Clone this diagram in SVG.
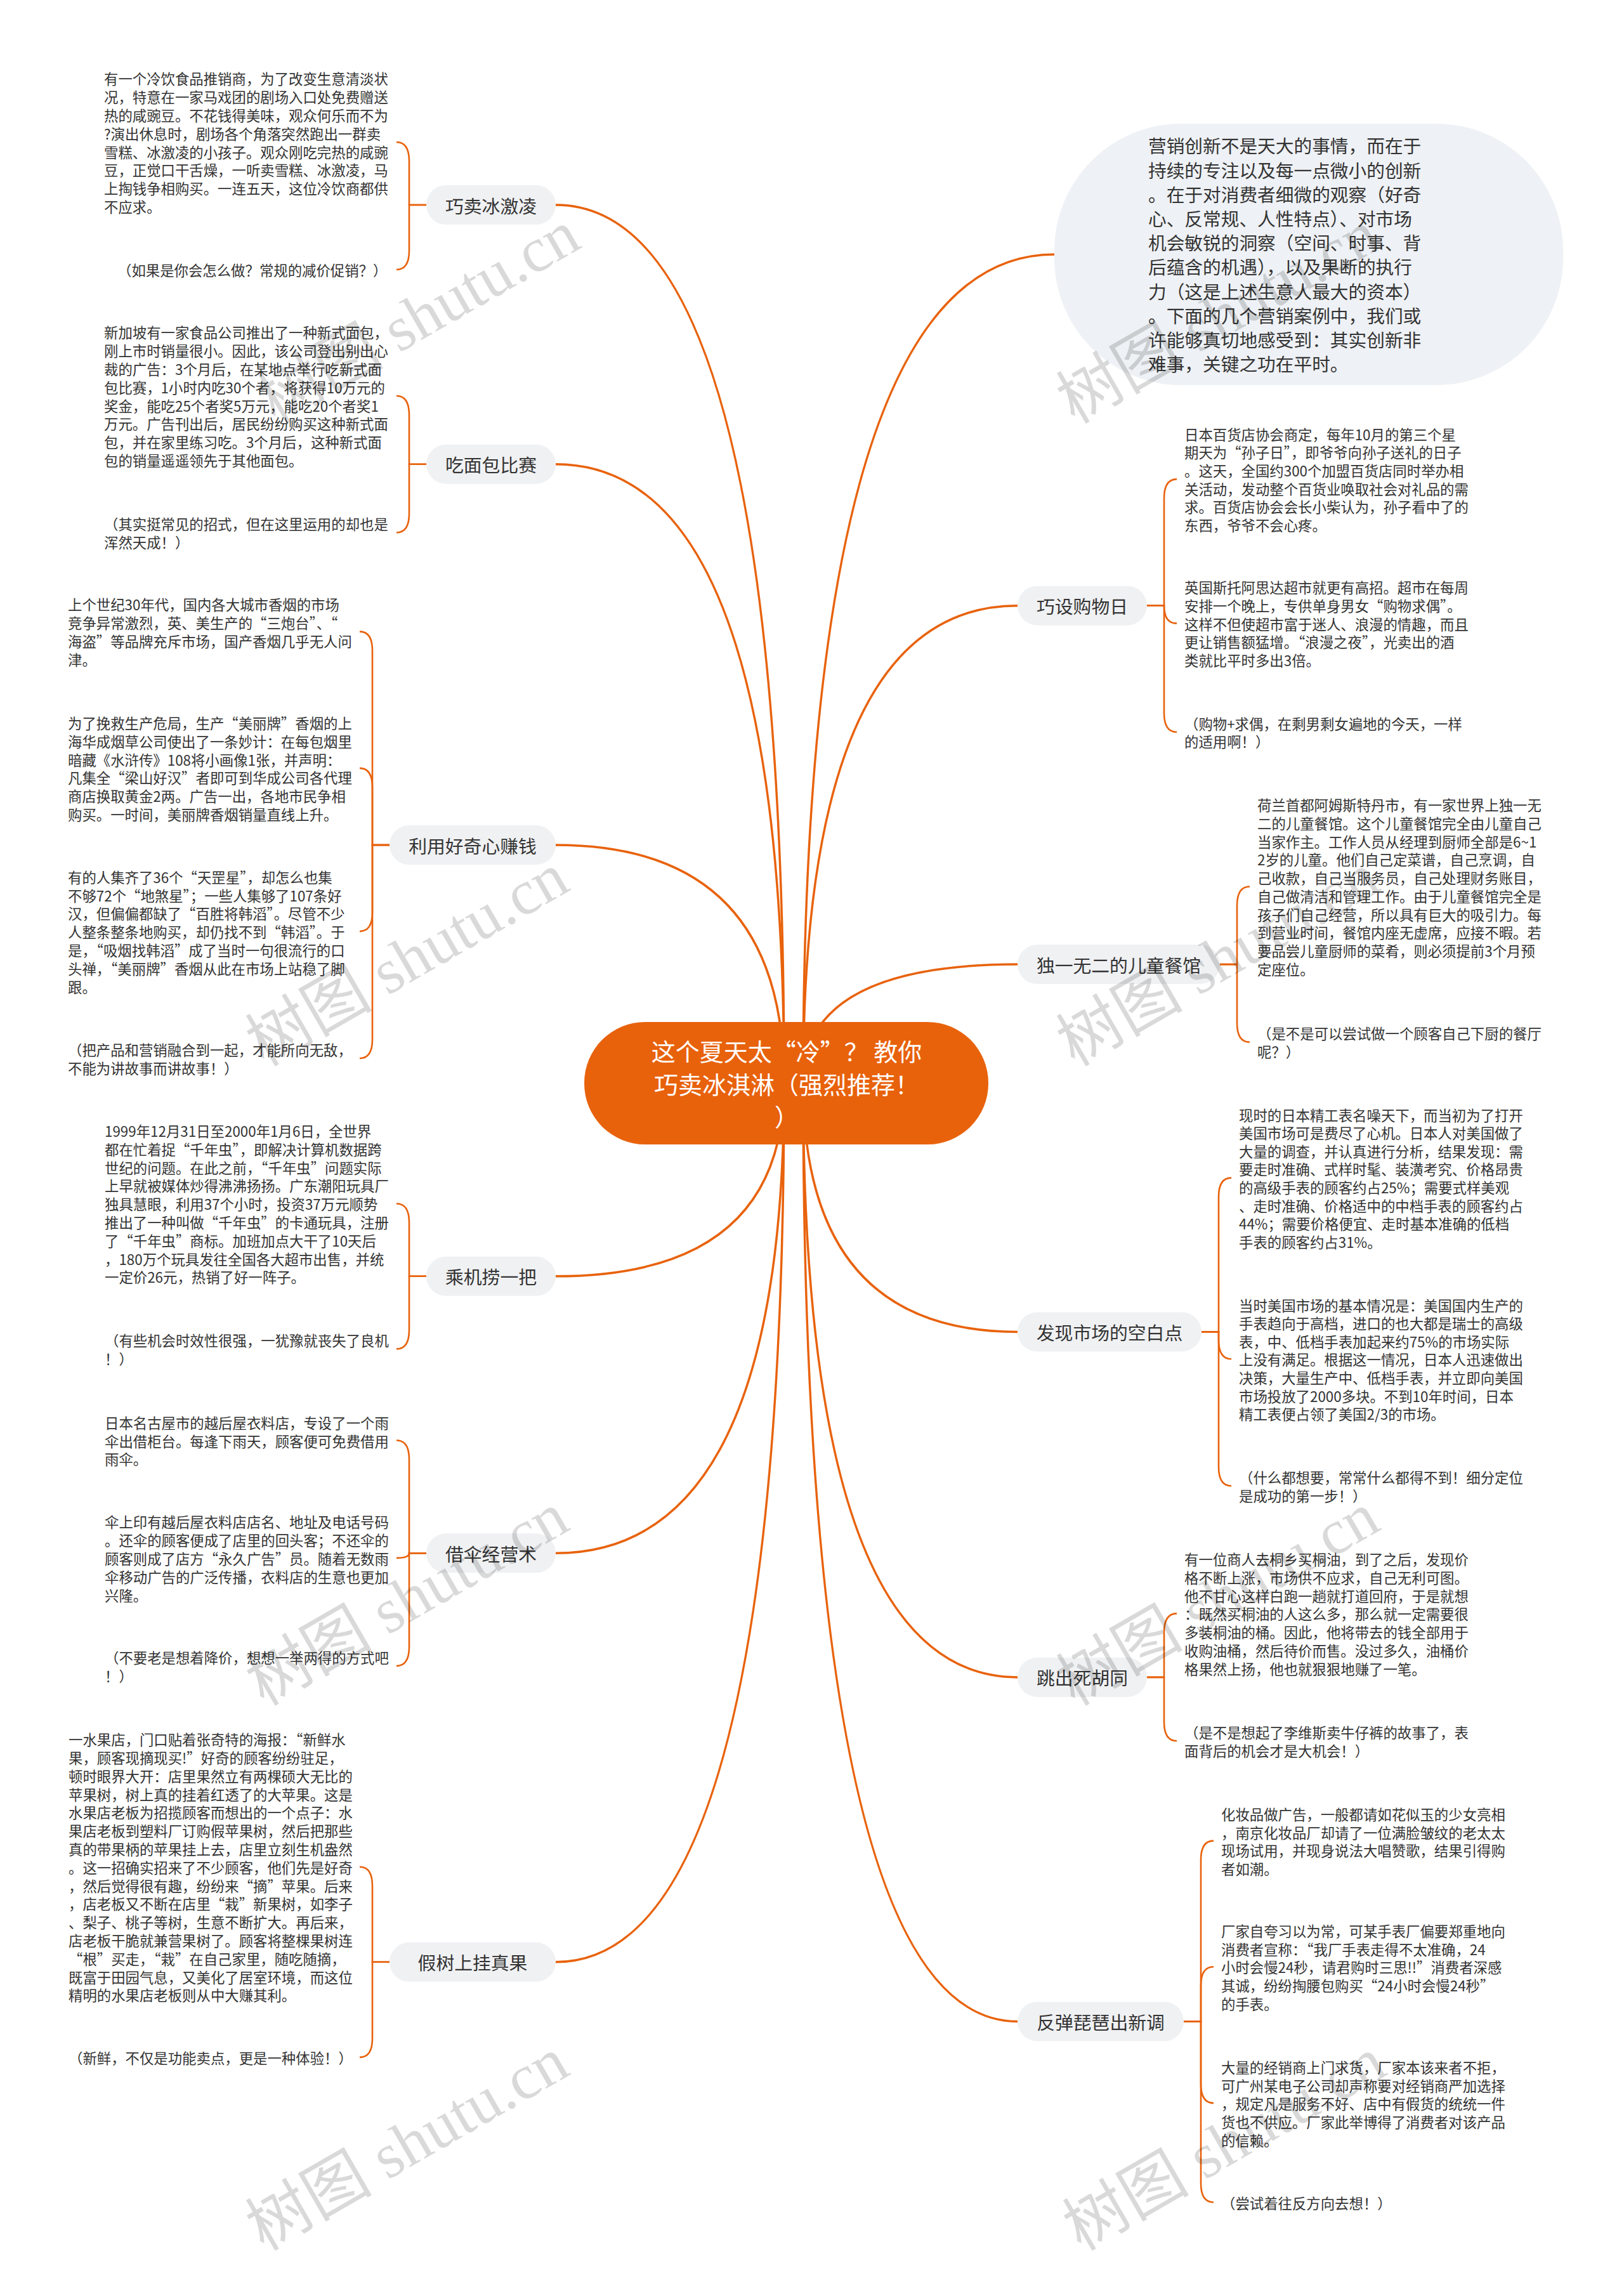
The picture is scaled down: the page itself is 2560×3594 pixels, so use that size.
<svg xmlns="http://www.w3.org/2000/svg" width="2560" height="3594" viewBox="0 0 2560 3594">
<style>
.t{font-family:"Noto Sans CJK SC","Noto Sans",sans-serif;font-size:22.4px;fill:#333333;dominant-baseline:central}
.lbl{font-family:"Noto Sans CJK SC","Noto Sans",sans-serif;font-size:28.8px;fill:#333333;text-anchor:middle;dominant-baseline:central}
.bub{font-family:"Noto Sans CJK SC","Noto Sans",sans-serif;font-size:28.7px;fill:#333333;dominant-baseline:central}
.ctr{font-family:"Noto Sans CJK SC","Noto Sans",sans-serif;font-size:38px;fill:#ffffff;text-anchor:middle;dominant-baseline:central}
.pill{fill:#F0F1F3}
.main{fill:none;stroke:#E8620C;stroke-width:3.5}
.br{fill:none;stroke:#E8620C;stroke-width:2.6}
.wm{font-family:"Liberation Serif","Noto Sans CJK SC",serif;font-size:100px;fill:#000000;fill-opacity:0.15;text-anchor:middle;dominant-baseline:central}
</style>
<rect width="2560" height="3594" fill="#ffffff"/>
<g id="connectors">
<path class="main" d="M1236 1707 Q1236 323 876 323"/>
<path class="main" d="M1236 1707 Q1236 731.7 876 731.7"/>
<path class="main" d="M1236 1707 Q1236 1332 876 1332"/>
<path class="main" d="M1236 1707 Q1236 2011.8 876 2011.8"/>
<path class="main" d="M1236 1707 Q1236 2448.3 876 2448.3"/>
<path class="main" d="M1236 1707 Q1236 3092.8 876 3092.8"/>
<path class="main" d="M1266 1707 Q1266 401 1662 401"/>
<path class="main" d="M1266 1707 Q1266 954.7 1604 954.7"/>
<path class="main" d="M1266 1707 Q1266 1520.1 1604 1520.1"/>
<path class="main" d="M1266 1707 Q1266 2099.4 1604 2099.4"/>
<path class="main" d="M1266 1707 Q1266 2643.9 1604 2643.9"/>
<path class="main" d="M1266 1707 Q1266 3186.5 1604 3186.5"/>
<path class="br" d="M672 323 H645 V254 Q645 224 625 224"/>
<path class="br" d="M672 323 H645 V395 Q645 425 625 425"/>
<path class="br" d="M672 731.7 H645 V654 Q645 624 625 624"/>
<path class="br" d="M672 731.7 H645 V809.5 Q645 839.5 625 839.5"/>
<path class="br" d="M614 1332 H587 V1025.6 Q587 995.6 567 995.6"/>
<path class="br" d="M614 1332 H587 V1240.9 Q587 1210.9 567 1210.9"/>
<path class="br" d="M614 1332 H587 V1438.1 Q587 1468.1 567 1468.1"/>
<path class="br" d="M614 1332 H587 V1638.3 Q587 1668.3 567 1668.3"/>
<path class="br" d="M672 2011.8 H645 V1927.2 Q645 1897.2 625 1897.2"/>
<path class="br" d="M672 2011.8 H645 V2096.4 Q645 2126.4 625 2126.4"/>
<path class="br" d="M672 2448.3 H645 V2300.5 Q645 2270.5 625 2270.5"/>
<path class="br" d="M672 2448.3 H645 Q645 2455.9 625 2455.9"/>
<path class="br" d="M672 2448.3 H645 V2596.1 Q645 2626.1 625 2626.1"/>
<path class="br" d="M614 3092.8 H587 V2972.7 Q587 2942.7 567 2942.7"/>
<path class="br" d="M614 3092.8 H587 V3212.9 Q587 3242.9 567 3242.9"/>
<path class="br" d="M1808 954.7 H1835 V785.4 Q1835 755.4 1855 755.4"/>
<path class="br" d="M1808 954.7 H1835 Q1835 982.6 1855 982.6"/>
<path class="br" d="M1808 954.7 H1835 V1124 Q1835 1154 1855 1154"/>
<path class="br" d="M1923 1520.1 H1950 V1427.5 Q1950 1397.5 1970 1397.5"/>
<path class="br" d="M1923 1520.1 H1950 V1612.7 Q1950 1642.7 1970 1642.7"/>
<path class="br" d="M1894 2099.4 H1921 V1886.6 Q1921 1856.6 1941 1856.6"/>
<path class="br" d="M1894 2099.4 H1921 V2112.3 Q1921 2142.3 1941 2142.3"/>
<path class="br" d="M1894 2099.4 H1921 V2312.2 Q1921 2342.2 1941 2342.2"/>
<path class="br" d="M1808 2643.9 H1835 V2573.4 Q1835 2543.4 1855 2543.4"/>
<path class="br" d="M1808 2643.9 H1835 V2714.3 Q1835 2744.3 1855 2744.3"/>
<path class="br" d="M1866 3186.5 H1893 V2931.6 Q1893 2901.6 1913 2901.6"/>
<path class="br" d="M1866 3186.5 H1893 V3130.3 Q1893 3100.3 1913 3100.3"/>
<path class="br" d="M1866 3186.5 H1893 V3285.1 Q1893 3315.1 1913 3315.1"/>
<path class="br" d="M1866 3186.5 H1893 V3441.5 Q1893 3471.5 1913 3471.5"/>
</g>
<g id="center">
<rect x="921" y="1611" width="637" height="193" rx="96" fill="#E8620C"/>
<text class="ctr"><tspan x="1240" y="1655">这个夏天太“冷”？ 教你</tspan><tspan x="1240" y="1707">巧卖冰淇淋（强烈推荐！</tspan><tspan x="1240" y="1758">）</tspan></text>
</g>
<g id="intro">
<rect x="1662" y="195" width="802" height="412" rx="200" ry="200" fill="#EEF1F5"/>
<text class="bub"><tspan x="1810" y="228.3">营销创新不是天大的事情，而在于</tspan><tspan x="1810" y="266.5">持续的专注以及每一点微小的创新</tspan><tspan x="1810" y="304.7">。在于对消费者细微的观察（好奇</tspan><tspan x="1810" y="342.9">心、反常规、人性特点）、对市场</tspan><tspan x="1810" y="381.1">机会敏锐的洞察（空间、时事、背</tspan><tspan x="1810" y="419.3">后蕴含的机遇），以及果断的执行</tspan><tspan x="1810" y="457.5">力（这是上述生意人最大的资本）</tspan><tspan x="1810" y="495.7">。下面的几个营销案例中，我们或</tspan><tspan x="1810" y="533.9">许能够真切地感受到：其实创新非</tspan><tspan x="1810" y="572.1">难事，关键之功在平时。</tspan></text>
</g>
<g id="b1">
<rect class="pill" x="672" y="292" width="204" height="62" rx="31"/>
<text class="lbl" x="774" y="323">巧卖冰激凌</text>
</g>
<g id="b1-c1"><text class="t"><tspan x="164" y="123.3">有一个冷饮食品推销商，为了改变生意清淡状</tspan><tspan x="164" y="152.1">况，特意在一家马戏团的剧场入口处免费赠送</tspan><tspan x="164" y="180.9">热的咸豌豆。不花钱得美味，观众何乐而不为</tspan><tspan x="164" y="209.7">?演出休息时，剧场各个角落突然跑出一群卖</tspan><tspan x="164" y="238.5">雪糕、冰激凌的小孩子。观众刚吃完热的咸豌</tspan><tspan x="164" y="267.3">豆，正觉口干舌燥，一听卖雪糕、冰激凌，马</tspan><tspan x="164" y="296.1">上掏钱争相购买。一连五天，这位冷饮商都供</tspan><tspan x="164" y="324.9">不应求。</tspan></text></g>
<g id="b1-c2"><text class="t" x="185" y="425">（如果是你会怎么做？常规的减价促销？）</text></g>
<g id="b2">
<rect class="pill" x="672" y="700.7" width="204" height="62" rx="31"/>
<text class="lbl" x="774" y="731.7">吃面包比赛</text>
</g>
<g id="b2-c1"><text class="t"><tspan x="164" y="523.3">新加坡有一家食品公司推出了一种新式面包，</tspan><tspan x="164" y="552.1">刚上市时销量很小。因此，该公司登出别出心</tspan><tspan x="164" y="580.9">裁的广告：3个月后，在某地点举行吃新式面</tspan><tspan x="164" y="609.7">包比赛，1小时内吃30个者，将获得10万元的</tspan><tspan x="164" y="638.5">奖金，能吃25个者奖5万元，能吃20个者奖1</tspan><tspan x="164" y="667.3">万元。广告刊出后，居民纷纷购买这种新式面</tspan><tspan x="164" y="696.1">包，并在家里练习吃。3个月后，这种新式面</tspan><tspan x="164" y="724.9">包的销量遥遥领先于其他面包。</tspan></text></g>
<g id="b2-c2"><text class="t"><tspan x="164" y="825">（其实挺常见的招式，但在这里运用的却也是</tspan><tspan x="164" y="853.8">浑然天成！）</tspan></text></g>
<g id="b3">
<rect class="pill" x="614" y="1301" width="262" height="62" rx="31"/>
<text class="lbl" x="745" y="1332">利用好奇心赚钱</text>
</g>
<g id="b3-c1"><text class="t"><tspan x="107" y="952.4">上个世纪30年代，国内各大城市香烟的市场</tspan><tspan x="107" y="981.2">竞争异常激烈，英、美生产的“三炮台”、“</tspan><tspan x="107" y="1010">海盗”等品牌充斥市场，国产香烟几乎无人问</tspan><tspan x="107" y="1038.8">津。</tspan></text></g>
<g id="b3-c2"><text class="t"><tspan x="107" y="1138.9">为了挽救生产危局，生产“美丽牌”香烟的上</tspan><tspan x="107" y="1167.7">海华成烟草公司使出了一条妙计：在每包烟里</tspan><tspan x="107" y="1196.5">暗藏《水浒传》108将小画像1张，并声明：</tspan><tspan x="107" y="1225.3">凡集全“梁山好汉”者即可到华成公司各代理</tspan><tspan x="107" y="1254.1">商店换取黄金2两。广告一出，各地市民争相</tspan><tspan x="107" y="1282.9">购买。一时间，美丽牌香烟销量直线上升。</tspan></text></g>
<g id="b3-c3"><text class="t"><tspan x="107" y="1381.7">有的人集齐了36个“天罡星”，却怎么也集</tspan><tspan x="107" y="1410.5">不够72个“地煞星”；一些人集够了107条好</tspan><tspan x="107" y="1439.3">汉，但偏偏都缺了“百胜将韩滔”。尽管不少</tspan><tspan x="107" y="1468.1">人整条整条地购买，却仍找不到“韩滔”。于</tspan><tspan x="107" y="1496.9">是，“吸烟找韩滔”成了当时一句很流行的口</tspan><tspan x="107" y="1525.7">头禅，“美丽牌”香烟从此在市场上站稳了脚</tspan><tspan x="107" y="1554.5">跟。</tspan></text></g>
<g id="b3-c4"><text class="t"><tspan x="107" y="1653.9">（把产品和营销融合到一起，才能所向无敌，</tspan><tspan x="107" y="1682.7">不能为讲故事而讲故事！）</tspan></text></g>
<g id="b4">
<rect class="pill" x="672" y="1980.8" width="204" height="62" rx="31"/>
<text class="lbl" x="774" y="2011.8">乘机捞一把</text>
</g>
<g id="b4-c1"><text class="t"><tspan x="165" y="1782">1999年12月31日至2000年1月6日，全世界</tspan><tspan x="165" y="1810.8">都在忙着捉“千年虫”，即解决计算机数据跨</tspan><tspan x="165" y="1839.6">世纪的问题。在此之前，“千年虫”问题实际</tspan><tspan x="165" y="1868.4">上早就被媒体炒得沸沸扬扬。广东潮阳玩具厂</tspan><tspan x="165" y="1897.2">独具慧眼，利用37个小时，投资37万元顺势</tspan><tspan x="165" y="1926">推出了一种叫做“千年虫”的卡通玩具，注册</tspan><tspan x="165" y="1954.8">了“千年虫”商标。加班加点大干了10天后</tspan><tspan x="165" y="1983.6">，180万个玩具发往全国各大超市出售，并统</tspan><tspan x="165" y="2012.4">一定价26元，热销了好一阵子。</tspan></text></g>
<g id="b4-c2"><text class="t"><tspan x="165" y="2112">（有些机会时效性很强，一犹豫就丧失了良机</tspan><tspan x="165" y="2140.8">！）</tspan></text></g>
<g id="b5">
<rect class="pill" x="672" y="2417.3" width="204" height="62" rx="31"/>
<text class="lbl" x="774" y="2448.3">借伞经营术</text>
</g>
<g id="b5-c1"><text class="t"><tspan x="165" y="2241.7">日本名古屋市的越后屋衣料店，专设了一个雨</tspan><tspan x="165" y="2270.5">伞出借柜台。每逢下雨天，顾客便可免费借用</tspan><tspan x="165" y="2299.3">雨伞。</tspan></text></g>
<g id="b5-c2"><text class="t"><tspan x="165" y="2398.3">伞上印有越后屋衣料店店名、地址及电话号码</tspan><tspan x="165" y="2427.1">。还伞的顾客便成了店里的回头客；不还伞的</tspan><tspan x="165" y="2455.9">顾客则成了店方“永久广告”员。随着无数雨</tspan><tspan x="165" y="2484.7">伞移动广告的广泛传播，衣料店的生意也更加</tspan><tspan x="165" y="2513.5">兴隆。</tspan></text></g>
<g id="b5-c3"><text class="t"><tspan x="165" y="2611.7">（不要老是想着降价，想想一举两得的方式吧</tspan><tspan x="165" y="2640.5">！）</tspan></text></g>
<g id="b6">
<rect class="pill" x="614" y="3061.8" width="262" height="62" rx="31"/>
<text class="lbl" x="745" y="3092.8">假树上挂真果</text>
</g>
<g id="b6-c1"><text class="t"><tspan x="108" y="2741.1">一水果店，门口贴着张奇特的海报：“新鲜水</tspan><tspan x="108" y="2769.9">果，顾客现摘现买!”好奇的顾客纷纷驻足，</tspan><tspan x="108" y="2798.7">顿时眼界大开：店里果然立有两棵硕大无比的</tspan><tspan x="108" y="2827.5">苹果树，树上真的挂着红透了的大苹果。这是</tspan><tspan x="108" y="2856.3">水果店老板为招揽顾客而想出的一个点子：水</tspan><tspan x="108" y="2885.1">果店老板到塑料厂订购假苹果树，然后把那些</tspan><tspan x="108" y="2913.9">真的带果柄的苹果挂上去，店里立刻生机盎然</tspan><tspan x="108" y="2942.7">。这一招确实招来了不少顾客，他们先是好奇</tspan><tspan x="108" y="2971.5">，然后觉得很有趣，纷纷来“摘”苹果。后来</tspan><tspan x="108" y="3000.3">，店老板又不断在店里“栽”新果树，如李子</tspan><tspan x="108" y="3029.1">、梨子、桃子等树，生意不断扩大。再后来，</tspan><tspan x="108" y="3057.9">店老板干脆就兼营果树了。顾客将整棵果树连</tspan><tspan x="108" y="3086.7">“根”买走，“栽”在自己家里，随吃随摘，</tspan><tspan x="108" y="3115.5">既富于田园气息，又美化了居室环境，而这位</tspan><tspan x="108" y="3144.3">精明的水果店老板则从中大赚其利。</tspan></text></g>
<g id="b6-c2"><text class="t" x="108" y="3242.9">（新鲜，不仅是功能卖点，更是一种体验！）</text></g>
<g id="r1">
<rect class="pill" x="1604" y="923.7" width="204" height="62" rx="31"/>
<text class="lbl" x="1706" y="954.7">巧设购物日</text>
</g>
<g id="r1-c1"><text class="t"><tspan x="1867" y="683.6">日本百货店协会商定，每年10月的第三个星</tspan><tspan x="1867" y="712.3">期天为“孙子日”，即爷爷向孙子送礼的日子</tspan><tspan x="1867" y="741">。这天，全国约300个加盟百货店同时举办相</tspan><tspan x="1867" y="769.7">关活动，发动整个百货业唤取社会对礼品的需</tspan><tspan x="1867" y="798.4">求。百货店协会会长小柴认为，孙子看中了的</tspan><tspan x="1867" y="827.1">东西，爷爷不会心疼。</tspan></text></g>
<g id="r1-c2"><text class="t"><tspan x="1867" y="925.2">英国斯托阿思达超市就更有高招。超市在每周</tspan><tspan x="1867" y="953.9">安排一个晚上，专供单身男女“购物求偶”。</tspan><tspan x="1867" y="982.6">这样不但使超市富于迷人、浪漫的情趣，而且</tspan><tspan x="1867" y="1011.3">更让销售额猛增。“浪漫之夜”，光卖出的酒</tspan><tspan x="1867" y="1040">类就比平时多出3倍。</tspan></text></g>
<g id="r1-c3"><text class="t"><tspan x="1867" y="1139.7">（购物+求偶，在剩男剩女遍地的今天，一样</tspan><tspan x="1867" y="1168.4">的适用啊！）</tspan></text></g>
<g id="r2">
<rect class="pill" x="1604" y="1489.1" width="319" height="62" rx="31"/>
<text class="lbl" x="1763.5" y="1520.1">独一无二的儿童餐馆</text>
</g>
<g id="r2-c1"><text class="t"><tspan x="1982" y="1268.3">荷兰首都阿姆斯特丹市，有一家世界上独一无</tspan><tspan x="1982" y="1297">二的儿童餐馆。这个儿童餐馆完全由儿童自己</tspan><tspan x="1982" y="1325.7">当家作主。工作人员从经理到厨师全部是6~1</tspan><tspan x="1982" y="1354.4">2岁的儿童。他们自己定菜谱，自己烹调，自</tspan><tspan x="1982" y="1383.1">己收款，自己当服务员，自己处理财务账目，</tspan><tspan x="1982" y="1411.8">自己做清洁和管理工作。由于儿童餐馆完全是</tspan><tspan x="1982" y="1440.5">孩子们自己经营，所以具有巨大的吸引力。每</tspan><tspan x="1982" y="1469.2">到营业时间，餐馆内座无虚席，应接不暇。若</tspan><tspan x="1982" y="1497.9">要品尝儿童厨师的菜肴，则必须提前3个月预</tspan><tspan x="1982" y="1526.6">定座位。</tspan></text></g>
<g id="r2-c2"><text class="t"><tspan x="1982" y="1628.3">（是不是可以尝试做一个顾客自己下厨的餐厅</tspan><tspan x="1982" y="1657">呢？）</tspan></text></g>
<g id="r3">
<rect class="pill" x="1604" y="2068.4" width="290" height="62" rx="31"/>
<text class="lbl" x="1749" y="2099.4">发现市场的空白点</text>
</g>
<g id="r3-c1"><text class="t"><tspan x="1953" y="1756.5">现时的日本精工表名噪天下，而当初为了打开</tspan><tspan x="1953" y="1785.1">美国市场可是费尽了心机。日本人对美国做了</tspan><tspan x="1953" y="1813.7">大量的调查，并认真进行分析，结果发现：需</tspan><tspan x="1953" y="1842.3">要走时准确、式样时髦、装潢考究、价格昂贵</tspan><tspan x="1953" y="1870.9">的高级手表的顾客约占25%；需要式样美观</tspan><tspan x="1953" y="1899.5">、走时准确、价格适中的中档手表的顾客约占</tspan><tspan x="1953" y="1928.1">44%；需要价格便宜、走时基本准确的低档</tspan><tspan x="1953" y="1956.7">手表的顾客约占31%。</tspan></text></g>
<g id="r3-c2"><text class="t"><tspan x="1953" y="2056.5">当时美国市场的基本情况是：美国国内生产的</tspan><tspan x="1953" y="2085.1">手表趋向于高档，进口的也大都是瑞士的高级</tspan><tspan x="1953" y="2113.7">表，中、低档手表加起来约75%的市场实际</tspan><tspan x="1953" y="2142.3">上没有满足。根据这一情况，日本人迅速做出</tspan><tspan x="1953" y="2170.9">决策，大量生产中、低档手表，并立即向美国</tspan><tspan x="1953" y="2199.5">市场投放了2000多块。不到10年时间，日本</tspan><tspan x="1953" y="2228.1">精工表便占领了美国2/3的市场。</tspan></text></g>
<g id="r3-c3"><text class="t"><tspan x="1953" y="2327.9">（什么都想要，常常什么都得不到！细分定位</tspan><tspan x="1953" y="2356.5">是成功的第一步！）</tspan></text></g>
<g id="r4">
<rect class="pill" x="1604" y="2612.9" width="204" height="62" rx="31"/>
<text class="lbl" x="1706" y="2643.9">跳出死胡同</text>
</g>
<g id="r4-c1"><text class="t"><tspan x="1867" y="2456.7">有一位商人去桐乡买桐油，到了之后，发现价</tspan><tspan x="1867" y="2485.6">格不断上涨，市场供不应求，自己无利可图。</tspan><tspan x="1867" y="2514.5">他不甘心这样白跑一趟就打道回府，于是就想</tspan><tspan x="1867" y="2543.4">：既然买桐油的人这么多，那么就一定需要很</tspan><tspan x="1867" y="2572.3">多装桐油的桶。因此，他将带去的钱全部用于</tspan><tspan x="1867" y="2601.2">收购油桶，然后待价而售。没过多久，油桶价</tspan><tspan x="1867" y="2630.1">格果然上扬，他也就狠狠地赚了一笔。</tspan></text></g>
<g id="r4-c2"><text class="t"><tspan x="1867" y="2730">（是不是想起了李维斯卖牛仔裤的故事了，表</tspan><tspan x="1867" y="2758.6">面背后的机会才是大机会！）</tspan></text></g>
<g id="r5">
<rect class="pill" x="1604" y="3155.5" width="262" height="62" rx="31"/>
<text class="lbl" x="1735" y="3186.5">反弹琵琶出新调</text>
</g>
<g id="r5-c1"><text class="t"><tspan x="1925" y="2859">化妆品做广告，一般都请如花似玉的少女亮相</tspan><tspan x="1925" y="2887.5">，南京化妆品厂却请了一位满脸皱纹的老太太</tspan><tspan x="1925" y="2916">现场试用，并现身说法大唱赞歌，结果引得购</tspan><tspan x="1925" y="2944.5">者如潮。</tspan></text></g>
<g id="r5-c2"><text class="t"><tspan x="1925" y="3043">厂家自夸习以为常，可某手表厂偏要郑重地向</tspan><tspan x="1925" y="3071.7">消费者宣称：“我厂手表走得不太准确，24</tspan><tspan x="1925" y="3100.4">小时会慢24秒，请君购时三思!!”消费者深感</tspan><tspan x="1925" y="3129.1">其诚，纷纷掏腰包购买“24小时会慢24秒”</tspan><tspan x="1925" y="3157.8">的手表。</tspan></text></g>
<g id="r5-c3"><text class="t"><tspan x="1925" y="3258">大量的经销商上门求货，厂家本该来者不拒，</tspan><tspan x="1925" y="3286.7">可广州某电子公司却声称要对经销商严加选择</tspan><tspan x="1925" y="3315.4">，规定凡是服务不好、店中有假货的统统一件</tspan><tspan x="1925" y="3344.1">货也不供应。厂家此举博得了消费者对该产品</tspan><tspan x="1925" y="3372.8">的信赖。</tspan></text></g>
<g id="r5-c4"><text class="t" x="1925" y="3471.5">（尝试着往反方向去想！）</text></g>
<g id="watermarks">
<text class="wm" transform="translate(660 500) rotate(-30)">树图 shutu.cn</text>
<text class="wm" transform="translate(1920 500) rotate(-30)">树图 shutu.cn</text>
<text class="wm" transform="translate(642 1513) rotate(-30)">树图 shutu.cn</text>
<text class="wm" transform="translate(1920 1513) rotate(-30)">树图 shutu.cn</text>
<text class="wm" transform="translate(642 2521) rotate(-30)">树图 shutu.cn</text>
<text class="wm" transform="translate(1920 2521) rotate(-30)">树图 shutu.cn</text>
<text class="wm" transform="translate(642 3380) rotate(-30)">树图 shutu.cn</text>
<text class="wm" transform="translate(1930 3380) rotate(-30)">树图 shutu.cn</text>
</g>
</svg>
